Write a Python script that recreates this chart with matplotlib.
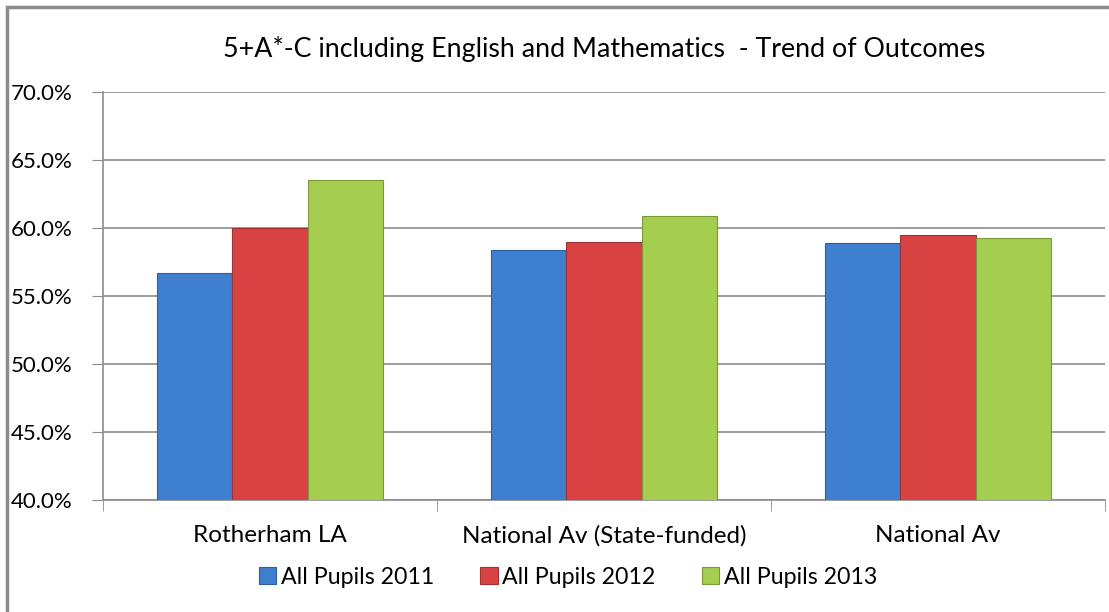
import matplotlib.pyplot as plt
from matplotlib.patches import Rectangle
from matplotlib.ticker import FuncFormatter
import numpy as np

categories = ['Rotherham LA', 'National Av (State-funded)', 'National Av']
series_names = ['All Pupils 2011', 'All Pupils 2012', 'All Pupils 2013']
pupils_2011 = [56.7, 58.4, 58.9]
pupils_2012 = [60.0, 59.0, 59.5]
pupils_2013 = [63.5, 60.9, 59.3]

colors = ['#3F7FCF', '#D84242', '#A5CD50']
edges = ['#2D5E9E', '#A33030', '#7A9A38']

plt.rcParams['font.family'] = ['Lato', 'DejaVu Sans']

fig = plt.figure(figsize=(11.09, 6.12), dpi=100)
ax = fig.add_axes([103 / 1109, 1 - 500 / 612, 1002 / 1109, 408 / 612])

# outer chart border
fig.patches.append(Rectangle((7 / 1109, -0.1), 1.2, 1.1 - 7 / 612, transform=fig.transFigure,
                             fill=False, edgecolor='#8C8C8C', linewidth=2.5))

x = np.arange(len(categories))
w = 0.225
for i, vals in enumerate([pupils_2011, pupils_2012, pupils_2013]):
    ax.bar(x + (i - 1) * w, vals, width=w, color=colors[i], edgecolor=edges[i],
           linewidth=0.8, label=series_names[i], zorder=3)

ax.set_ylim(40, 70)
ax.set_xlim(-0.5, 2.5)
ax.set_yticks(np.arange(40, 70.1, 5))
ax.yaxis.set_major_formatter(FuncFormatter(lambda v, p: f'{v:.1f}%'))
ax.grid(axis='y', color='#8C8C8C', linewidth=1.2, zorder=0)
ax.set_xticks(x)
ax.set_xticklabels(categories)
ax.set_xticks([-0.5, 0.5, 1.5, 2.5], minor=True)
ax.tick_params(axis='x', which='major', length=0, pad=18, labelsize=17.5)
ax.tick_params(axis='x', which='minor', length=8, color='#8C8C8C')
ax.tick_params(axis='y', length=8, color='#8C8C8C', labelsize=16, pad=14)
for s in ['top', 'right']:
    ax.spines[s].set_visible(False)
for s in ['left', 'bottom']:
    ax.spines[s].set_color('#8C8C8C')
    ax.spines[s].set_linewidth(1.2)

ax.set_title('5+A*-C including English and Mathematics  - Trend of Outcomes',
             fontsize=19.3, pad=25)
ax.legend(loc='upper center', bbox_to_anchor=(0.464, -0.112), ncol=3, frameon=False,
          fontsize=16.7, handlelength=0.75, handleheight=0.75, handletextpad=0.2,
          columnspacing=2.0)

fig.savefig('out.png', dpi=100)
